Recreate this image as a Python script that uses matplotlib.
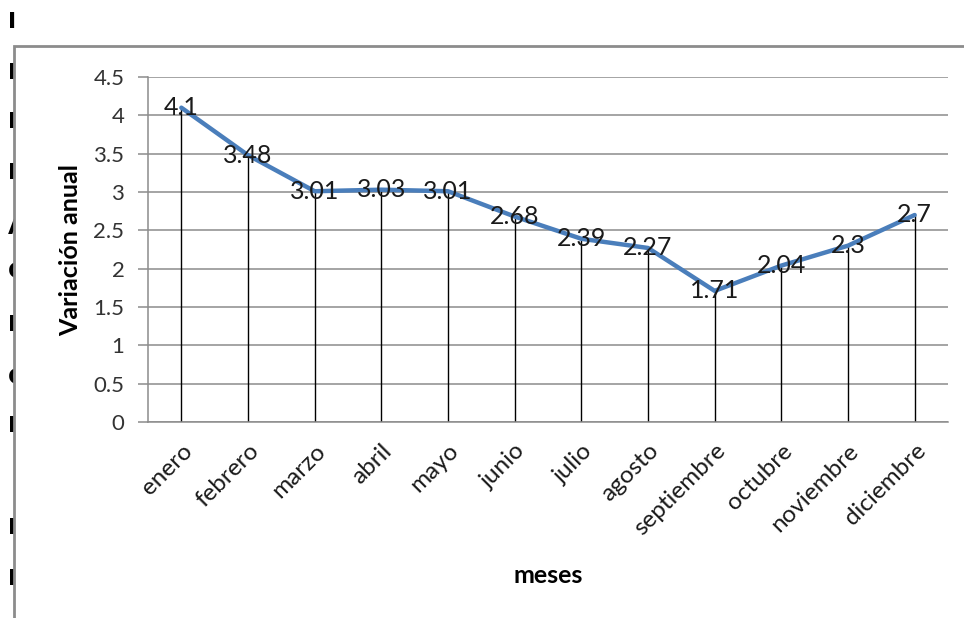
import matplotlib
matplotlib.use("Agg")
import matplotlib.pyplot as plt
from matplotlib.patches import Rectangle

# ---- data ----
meses = ["enero", "febrero", "marzo", "abril", "mayo", "junio", "julio",
         "agosto", "septiembre", "octubre", "noviembre", "diciembre"]
variacion = [4.1, 3.48, 3.01, 3.03, 3.01, 2.68, 2.39, 2.27, 1.71, 2.04, 2.3, 2.7]
yticks = [0, 0.5, 1, 1.5, 2, 2.5, 3, 3.5, 4, 4.5]
ytick_labels = ["0", "0.5", "1", "1.5", "2", "2.5", "3", "3.5", "4", "4.5"]

# cropped letters of the surrounding document (left margin)
margin_letters = ["I", "I", "I", "I", "A", "C", "I", "C", "I", "I", "I"]
margin_y_px = [22, 73, 122, 173, 228, 272, 325, 378, 426, 528, 579]

W, H = 964, 618
plt.rcParams["font.family"] = ["Lato", "DejaVu Sans"]
fig = plt.figure(figsize=(W / 100, H / 100), dpi=100)

# document text fragments, then the chart-area frame on top of them
for ch, ypx in zip(margin_letters, margin_y_px):
    fig.text(8 / W, 1 - ypx / H, ch, fontsize=16, fontweight="bold",
             family="DejaVu Sans", ha="left", va="center", zorder=1)
frame = Rectangle((14 / W, -0.05), 1.2, 1 - 46 / H + 0.05,
                  transform=fig.transFigure, facecolor="white",
                  edgecolor="#8c8c8c", linewidth=2, zorder=2)
fig.patches.append(frame)

ax = fig.add_axes([148 / W, 1 - 422 / H, 800 / W, 345 / H])
ax.set_zorder(3)

x = [i + 0.5 for i in range(len(meses))]
grid_c = "#8c8c8c"

ax.set_xlim(0, len(meses))
ax.set_ylim(0, 4.5)
ax.set_yticks(yticks)
ax.set_yticklabels(ytick_labels)
ax.yaxis.grid(True, color=grid_c, linewidth=1.1, zorder=0)
ax.set_axisbelow(True)

# drop lines
ax.vlines(x, 0, variacion, colors="black", linewidth=1, zorder=2)
ax.plot(x, variacion, color="#4a7ebb", linewidth=3.2, zorder=3,
        solid_capstyle="round", solid_joinstyle="round")
for xi, v in zip(x, variacion):
    ax.text(xi, v, f"{v:g}", ha="center", va="center", fontsize=18,
            color="#1a1a1a", zorder=4)

ax.set_xticks(x)
ax.set_xticklabels(meses, rotation=45, ha="right", va="top",
                   rotation_mode="anchor", fontsize=17.5, color="#1a1a1a")
ax.tick_params(axis="x", length=0, pad=13)
ax.tick_params(axis="y", direction="out", length=7, width=1.1, color=grid_c,
               labelsize=16, labelcolor="#333333", pad=10)

for s in ["top", "right"]:
    ax.spines[s].set_visible(False)
for s in ["left", "bottom"]:
    ax.spines[s].set_color(grid_c)
    ax.spines[s].set_linewidth(1.1)

ax.set_ylabel("Variación anual", fontsize=18, fontweight="bold", labelpad=8)
ax.set_xlabel("meses", fontsize=18, fontweight="bold", labelpad=18)

fig.savefig("out.png", dpi=100)
